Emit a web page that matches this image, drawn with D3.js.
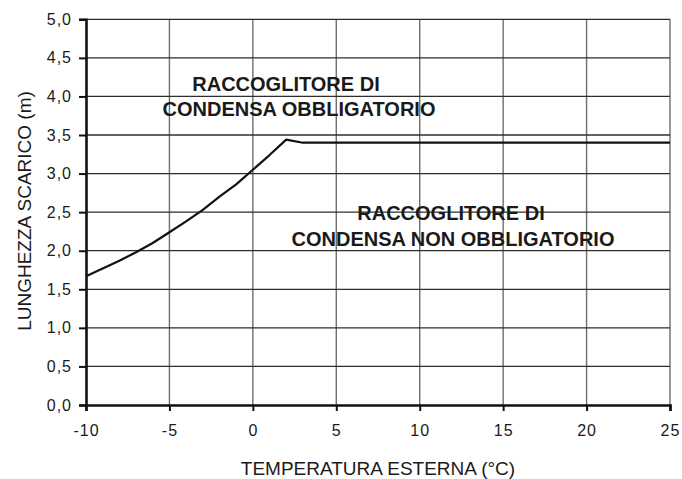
<!DOCTYPE html>
<html>
<head>
<meta charset="utf-8">
<script src="https://cdn.jsdelivr.net/npm/d3@7"></script>
<style>
  html, body { margin: 0; padding: 0; background: #fff; }
  svg { display: block; }
  text { font-family: "Liberation Sans", Arial, Helvetica, sans-serif; fill: #1a1a1a; }
</style>
</head>
<body>
<svg id="chart" width="682" height="479"></svg>
<script>
// Outdoor temperature (°C) and maximum drain length (m)
const temperature = [-10, -9, -8, -7, -6, -5, -4, -3, -2, -1, 0, 1, 2, 3, 25];
const drainLength = [1.67, 1.77, 1.87, 1.98, 2.10, 2.24, 2.38, 2.53, 2.70, 2.86, 3.05, 3.24, 3.44, 3.40, 3.40];

const xTicks = [-10, -5, 0, 5, 10, 15, 20, 25];
const yTicks = [0, 0.5, 1, 1.5, 2, 2.5, 3, 3.5, 4, 4.5, 5];

const xTitle = "TEMPERATURA ESTERNA (°C)";
const yTitle = "LUNGHEZZA SCARICO (m)";
const zoneAbove = ["RACCOGLITORE DI", "CONDENSA OBBLIGATORIO"];
const zoneBelow = ["RACCOGLITORE DI", "CONDENSA NON OBBLIGATORIO"];

const svg = d3.select("#chart");
const x = d3.scaleLinear().domain([-10, 25]).range([86, 670]);
const y = d3.scaleLinear().domain([0, 5]).range([405, 19.3]);
const fmt = v => d3.format(".1f")(v).replace(".", ",");

// grid
svg.append("g").selectAll("line").data(xTicks.filter(d => d > -10)).join("line")
  .attr("x1", d => x(d)).attr("x2", d => x(d))
  .attr("y1", y(0)).attr("y2", y(5))
  .attr("stroke", "#6e6e6e").attr("stroke-width", 1.4);
svg.append("g").selectAll("line").data(yTicks.filter(d => d > 0)).join("line")
  .attr("x1", x(-10)).attr("x2", x(25))
  .attr("y1", d => y(d)).attr("y2", d => y(d))
  .attr("stroke", "#2e2e2e").attr("stroke-width", 1.3);

// axes
const yAxis = d3.axisLeft(y).tickValues(yTicks).tickFormat(fmt).tickSize(7).tickPadding(7);
const xAxis = d3.axisBottom(x).tickValues(xTicks).tickSize(6).tickPadding(13.5)
  .tickFormat(d => String(d));

const gy = svg.append("g").attr("transform", `translate(${x(-10)},0)`).call(yAxis);
const gx = svg.append("g").attr("transform", `translate(0,${y(0)})`).call(xAxis);
[gx, gy].forEach(g => {
  g.select(".domain").attr("stroke", "#111").attr("stroke-width", 2.6);
  g.selectAll(".tick line").attr("stroke", "#111").attr("stroke-width", 2);
  g.selectAll(".tick text").attr("font-size", 16).attr("letter-spacing", 1)
    .attr("fill", "#1a1a1a")
    .attr("font-family", "'Liberation Sans', Arial, sans-serif");
});

// curve
svg.append("path")
  .datum(temperature.map((t, i) => [t, drainLength[i]]))
  .attr("fill", "none").attr("stroke", "#111").attr("stroke-width", 2.2)
  .attr("stroke-linejoin", "round")
  .attr("d", d3.line().x(d => x(d[0])).y(d => y(d[1])));

// zone labels
const zone = (lines, cx, base) => lines.forEach((s, i) =>
  svg.append("text").attr("x", cx[i]).attr("y", base[i])
    .attr("text-anchor", "middle").attr("font-size", 20).attr("font-weight", "bold")
    .attr("fill", "#222").text(s));
zone(zoneAbove, [286, 299], [90.7, 115.5]);
zone(zoneBelow, [451, 453], [220, 246]);

// axis titles
svg.append("text").attr("x", 378).attr("y", 475).attr("text-anchor", "middle")
  .attr("font-size", 19).text(xTitle);
svg.append("text").attr("transform", `translate(31,211) rotate(-90)`)
  .attr("text-anchor", "middle").attr("font-size", 19).text(yTitle);
</script>
</body>
</html>
